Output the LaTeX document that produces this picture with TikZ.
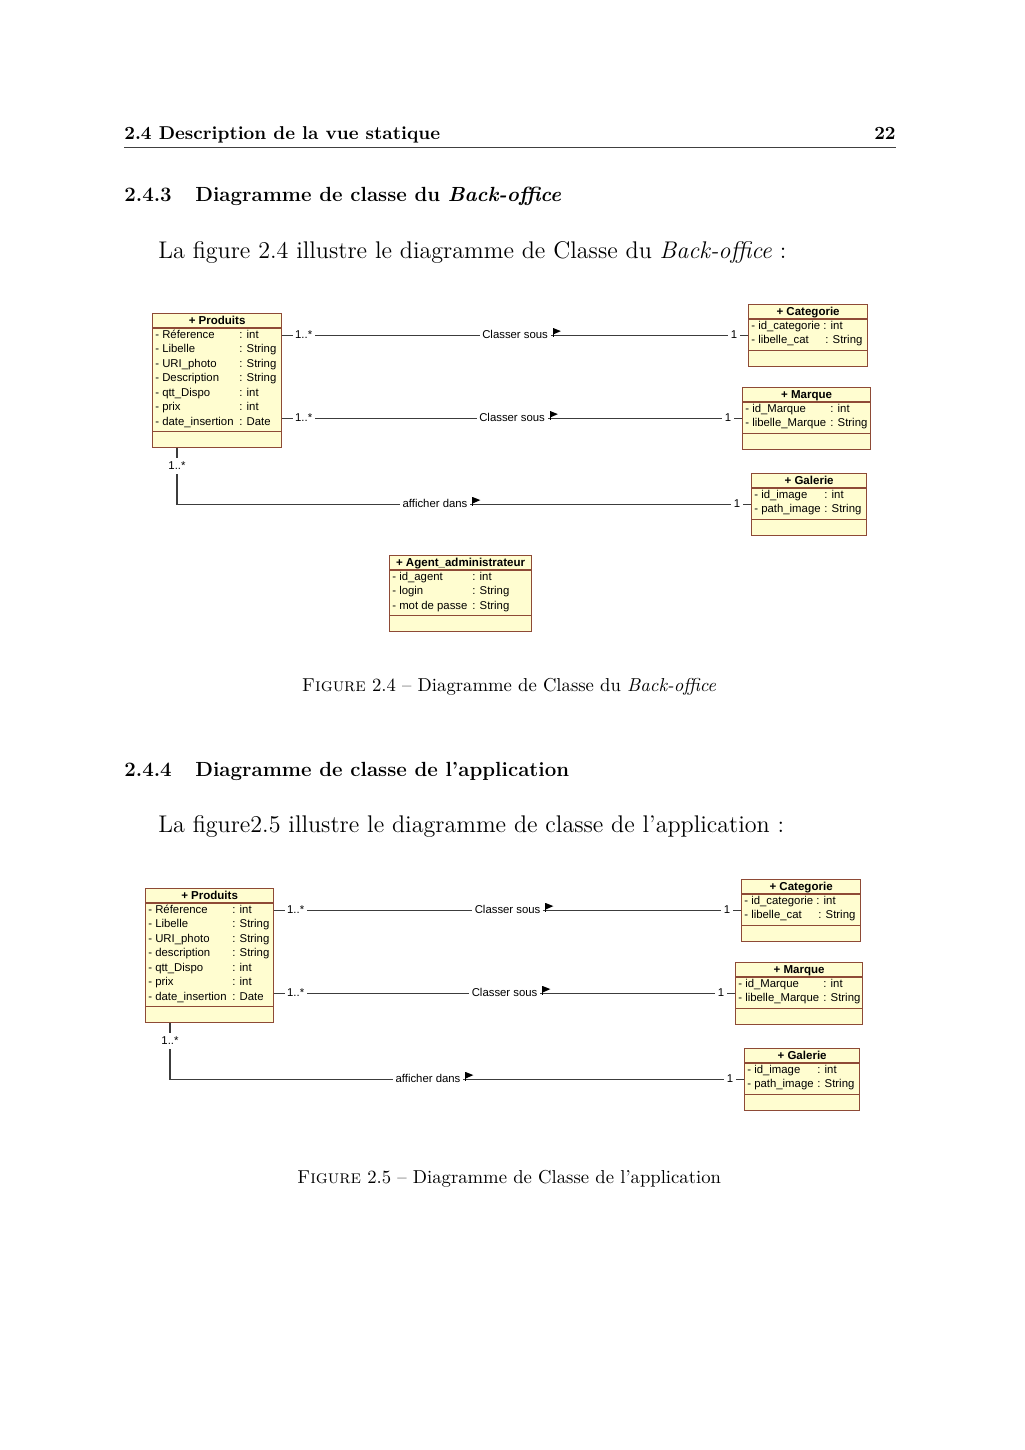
\documentclass[tikz,border=0pt]{standalone}
\usepackage{fontspec}
\newfontfamily\umlfont{Liberation Sans}
\usetikzlibrary{calc}
\definecolor{boxfill}{HTML}{FFFDD0}
\definecolor{boxline}{HTML}{8E4A36}
\definecolor{conn}{HTML}{3C3C3C}
\def\pxu{0.58105pt}
\tikzset{
  classbox/.style={draw=boxline, fill=boxfill, line width=0.7pt, inner sep=0pt, anchor=north west},
  sepline/.style={draw=boxline, line width=0.7pt},
  ctitle/.style={font=\umlfont\fontsize{6.7}{8}\selectfont\bfseries, inner sep=0pt, text height=4.9pt, text depth=1.4pt},
  attr/.style={font=\umlfont\fontsize{6.6}{8}\selectfont, inner sep=0pt, anchor=west, text height=4.9pt, text depth=1.4pt},
  assoc/.style={draw=conn, line width=0.6pt},
  mult/.style={font=\umlfont\fontsize{6.6}{8}\selectfont, fill=white, inner sep=1.5pt, text height=4.9pt, text depth=1.4pt},
  alabel/.style={font=\umlfont\fontsize{6.6}{8}\selectfont, fill=white, inner sep=1.5pt, text height=4.9pt, text depth=1.4pt},
  pagetext/.style={inner sep=0pt, anchor=base west},
}
\newcommand\umlclass[6]{%
  \node[classbox, minimum width=#4*\pxu, minimum height=#5*\pxu] (#1) at (#2,#3) {};
  \draw[sepline] ($(#1.north west)+(0,15)$) -- ($(#1.north east)+(0,15)$);
  \draw[sepline] ($(#1.south west)+(0,-17)$) -- ($(#1.south east)+(0,-17)$);
  \node[ctitle] (#1-title) at ($(#1.north)+(0,8)$) {#6};}
\newcommand\umlrow[6]{%
  \node[attr] (#1-#2) at ($(#1.north west)+(3,{22+14.5*#3})$) {- #5};
  \node[attr] (#1-#2-type) at ($(#1.north west)+(#4,{22+14.5*#3})$) {: #6};}
\newcommand\flagafter[1]{%
  \fill[black] ($(#1.east)+(2.5,-7.5)$) -- ($(#1.east)+(10,-4.5)$) -- ($(#1.east)+(2.5,-1.2)$) -- cycle;
  \draw[black, line width=0.7pt] ($(#1.east)+(2.5,1)$) -- ($(#1.east)+(2.5,-7.5)$);}
\begin{document}
\begin{tikzpicture}[x=0.58105pt, y=-0.58105pt]
\useasboundingbox[fill=white] (0,0) rectangle (1024,1450);

% ---------- page header ----------
\node[pagetext] (hdr) at (124,140) {\bfseries\fontsize{10.8}{12}\selectfont 2.4 Description de la vue statique};
\node[inner sep=0pt, anchor=base east] (pgno) at (896,140) {\bfseries\fontsize{10.8}{12}\selectfont 22};
\draw[line width=0.45pt, black!75] (hdr.base west |- 0,147) -- (pgno.base east |- 0,147);

% ---------- section 2.4.3 ----------
\node[pagetext] (s1num) at (124,202) {\bfseries\fontsize{11.9}{14}\selectfont 2.4.3};
\node[pagetext] (s1) at (195,202) {\bfseries\fontsize{11.9}{14}\selectfont Diagramme de classe du \textit{Back-office}};
\node[pagetext] (p1) at (158,258) {\fontsize{14}{16}\selectfont La figure 2.4 illustre le diagramme de Classe du \textit{Back-office} :};

% ---------- figure 2.4 ----------
\umlclass{prod}{152}{313}{129}{134}{+ Produits}
\umlrow{prod}{r1}{0}{87}{Réference}{int}
\umlrow{prod}{r2}{1}{87}{Libelle}{String}
\umlrow{prod}{r3}{2}{87}{URI\_photo}{String}
\umlrow{prod}{r4}{3}{87}{Description}{String}
\umlrow{prod}{r5}{4}{87}{qtt\_Dispo}{int}
\umlrow{prod}{r6}{5}{87}{prix}{int}
\umlrow{prod}{r7}{6}{87}{date\_insertion}{Date}

\umlclass{cat}{748}{304}{119}{62}{+ Categorie}
\umlrow{cat}{r1}{0}{75}{id\_categorie}{int}
\umlrow{cat}{r2}{1}{77}{libelle\_cat}{String}

\umlclass{marq}{742}{387}{128}{62}{+ Marque}
\umlrow{marq}{r1}{0}{88}{id\_Marque}{int}
\umlrow{marq}{r2}{1}{88}{libelle\_Marque}{String}

\umlclass{gal}{751}{473}{115}{62}{+ Galerie}
\umlrow{gal}{r1}{0}{73}{id\_image}{int}
\umlrow{gal}{r2}{1}{73}{path\_image}{String}

\umlclass{agent}{389}{555}{142}{76}{+ Agent\_administrateur}
\umlrow{agent}{r1}{0}{83}{id\_agent}{int}
\umlrow{agent}{r2}{1}{83}{login}{String}
\umlrow{agent}{r3}{2}{83}{mot de passe}{String}

% associations
\draw[assoc] (prod.east |- cat.west) -- (cat.west);
\node[alabel] (l1) at ($(prod.east |- cat.west)!0.5!(cat.west)$) {Classer sous};
\flagafter{l1}
\node[mult, anchor=west] (l1a) at ($(prod.east |- cat.west)+(10,0)$) {1..*};
\node[mult, anchor=east] (l1b) at ($(cat.west)+(-8,0)$) {1};

\draw[assoc] (prod.east |- marq.west) -- (marq.west);
\node[alabel] (l2) at ($(prod.east |- marq.west)!0.5!(marq.west)$) {Classer sous};
\flagafter{l2}
\node[mult, anchor=west] (l2a) at ($(prod.east |- marq.west)+(10,0)$) {1..*};
\node[mult, anchor=east] (l2b) at ($(marq.west)+(-8,0)$) {1};

\coordinate (p3) at ($(prod.south west)+(25,0)$);
\draw[assoc] (p3) |- (gal.west);
\node[alabel] (l3) at ($(p3 |- gal.west)+(258,0)$) {afficher dans};
\flagafter{l3}
\node[mult] (l3a) at ($(p3)+(0,18)$) {1..*};
\node[mult, anchor=east] (l3b) at ($(gal.west)+(-8,0)$) {1};

\node[inner sep=0pt, anchor=base] (cap1) at (509,691) {\fontsize{10.85}{13}\selectfont \textsc{Figure} 2.4 -- Diagramme de Classe du \textit{Back-office}};

% ---------- section 2.4.4 ----------
\node[pagetext] (s2num) at (124,776) {\bfseries\fontsize{11.9}{14}\selectfont 2.4.4};
\node[pagetext] (s2) at (195,776) {\bfseries\fontsize{11.9}{14}\selectfont Diagramme de classe de l'application};
\node[pagetext] (p2) at (158,832) {\fontsize{14}{16}\selectfont La figure2.5 illustre le diagramme de classe de l'application :};

% ---------- figure 2.5 ----------
\umlclass{prodb}{145}{888}{128}{134}{+ Produits}
\umlrow{prodb}{r1}{0}{87}{Réference}{int}
\umlrow{prodb}{r2}{1}{87}{Libelle}{String}
\umlrow{prodb}{r3}{2}{87}{URI\_photo}{String}
\umlrow{prodb}{r4}{3}{87}{description}{String}
\umlrow{prodb}{r5}{4}{87}{qtt\_Dispo}{int}
\umlrow{prodb}{r6}{5}{87}{prix}{int}
\umlrow{prodb}{r7}{6}{87}{date\_insertion}{Date}

\umlclass{catb}{741}{879}{119}{62}{+ Categorie}
\umlrow{catb}{r1}{0}{75}{id\_categorie}{int}
\umlrow{catb}{r2}{1}{77}{libelle\_cat}{String}

\umlclass{marqb}{735}{962}{127}{62}{+ Marque}
\umlrow{marqb}{r1}{0}{88}{id\_Marque}{int}
\umlrow{marqb}{r2}{1}{88}{libelle\_Marque}{String}

\umlclass{galb}{744}{1048}{115}{62}{+ Galerie}
\umlrow{galb}{r1}{0}{73}{id\_image}{int}
\umlrow{galb}{r2}{1}{73}{path\_image}{String}

\draw[assoc] (prodb.east |- catb.west) -- (catb.west);
\node[alabel] (m1) at ($(prodb.east |- catb.west)!0.5!(catb.west)$) {Classer sous};
\flagafter{m1}
\node[mult, anchor=west] (m1a) at ($(prodb.east |- catb.west)+(10,0)$) {1..*};
\node[mult, anchor=east] (m1b) at ($(catb.west)+(-8,0)$) {1};

\draw[assoc] (prodb.east |- marqb.west) -- (marqb.west);
\node[alabel] (m2) at ($(prodb.east |- marqb.west)!0.5!(marqb.west)$) {Classer sous};
\flagafter{m2}
\node[mult, anchor=west] (m2a) at ($(prodb.east |- marqb.west)+(10,0)$) {1..*};
\node[mult, anchor=east] (m2b) at ($(marqb.west)+(-8,0)$) {1};

\coordinate (q3) at ($(prodb.south west)+(25,0)$);
\draw[assoc] (q3) |- (galb.west);
\node[alabel] (m3) at ($(q3 |- galb.west)+(258,0)$) {afficher dans};
\flagafter{m3}
\node[mult] (m3a) at ($(q3)+(0,18)$) {1..*};
\node[mult, anchor=east] (m3b) at ($(galb.west)+(-8,0)$) {1};

\node[inner sep=0pt, anchor=base] (cap2) at (509,1183) {\fontsize{10.85}{13}\selectfont \textsc{Figure} 2.5 -- Diagramme de Classe de l'application};
\end{tikzpicture}
\end{document}
